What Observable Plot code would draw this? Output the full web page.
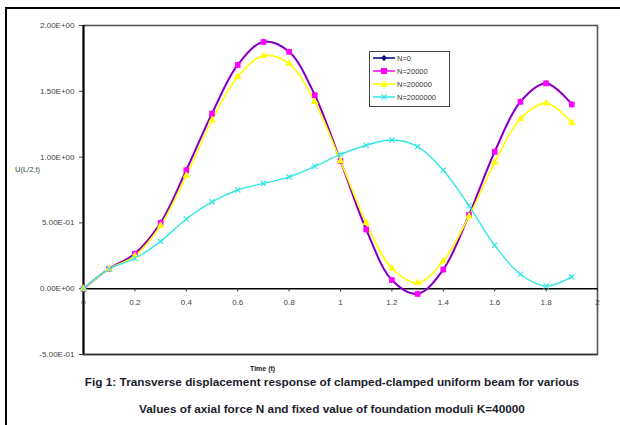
<!DOCTYPE html>
<html>
<head>
<meta charset="utf-8">
<script src="https://cdn.jsdelivr.net/npm/d3@7"></script>
<script src="https://cdn.jsdelivr.net/npm/@observablehq/plot@0.6"></script>
<style>
  html, body { margin: 0; padding: 0; background: #fff; }
  #wrap { position: relative; width: 620px; height: 425px; overflow: hidden; font-family: "Liberation Sans", Arial, sans-serif; }
  #frame { position: absolute; left: 5px; top: 7px; width: 640px; height: 440px; border-left: 2px solid #000; border-top: 2px solid #000; }
  #chart { position: absolute; left: 0; top: 0; }
  .cap { position: absolute; left: 0; width: 620px; text-align: center; font-weight: bold; font-size: 11.8px; color: #1c1c2c; white-space: nowrap; }
  #legend { position: absolute; left: 369px; top: 51px; width: 79px; height: 54px; border: 1px solid #444; background: #fff; font-size: 7.5px; color: #333; }
  .li { position: absolute; left: 3px; height: 10px; display: flex; align-items: center; }
  .li svg { margin-right: 2px; }
  #ylab { position: absolute; left: 15px; top: 165px; font-size: 7.5px; color: #2f4a2f; }
  #xlab { position: absolute; left: 250px; top: 365px; font-size: 7px; color: #222; font-weight: bold; }
</style>
</head>
<body>
<div id="wrap">
  <div id="frame"></div>
  <div id="chart"></div>
  <div id="ylab">U(L/2,t)</div>
  <div id="xlab">Time (t)</div>
  <div id="legend"></div>
  <div class="cap" style="top:375px; left:22px;">Fig 1: Transverse displacement response of clamped-clamped uniform beam for various</div>
  <div class="cap" style="top:402px; left:22px;">Values of axial force N and fixed value of foundation moduli K=40000</div>
</div>
<script>
const times = [0, 0.1, 0.2, 0.3, 0.4, 0.5, 0.6, 0.7, 0.8, 0.9, 1.0, 1.1, 1.2, 1.3, 1.4, 1.5, 1.6, 1.7, 1.8, 1.9];
const seriesNames = ["N=0", "N=20000", "N=200000", "N=2000000"];
const n0       = [0, 0.152, 0.267, 0.502, 0.902, 1.332, 1.702, 1.877, 1.802, 1.472, 0.972, 0.452, 0.067, -0.038, 0.147, 0.562, 1.042, 1.422, 1.562, 1.402];
const n20000   = [0, 0.152, 0.266, 0.50, 0.90, 1.33, 1.70, 1.875, 1.80, 1.47, 0.97, 0.45, 0.065, -0.04, 0.145, 0.56, 1.04, 1.42, 1.56, 1.40];
const n200000  = [0, 0.150, 0.250, 0.48, 0.86, 1.28, 1.61, 1.77, 1.71, 1.42, 0.97, 0.50, 0.155, 0.045, 0.21, 0.55, 0.96, 1.29, 1.41, 1.26];
const n2000000 = [0, 0.150, 0.230, 0.36, 0.53, 0.66, 0.75, 0.80, 0.85, 0.93, 1.02, 1.09, 1.13, 1.08, 0.90, 0.63, 0.33, 0.11, 0.02, 0.09];
const xTicks = [0, 0.2, 0.4, 0.6, 0.8, 1, 1.2, 1.4, 1.6, 1.8, 2];
const xTickLabels = ["0", "0.2", "0.4", "0.6", "0.8", "1", "1.2", "1.4", "1.6", "1.8", "2"];
const yTicks = [-0.5, 0, 0.5, 1, 1.5, 2];
const yTickLabels = ["-5.00E-01", "0.00E+00", "5.00E-01", "1.00E+00", "1.50E+00", "2.00E+00"];

const colors = ["#000080", "#ff00ff", "#ffff00", "#33e6e6"];
const allValues = [n0, n20000, n200000, n2000000];
const rows = [];
allValues.forEach((vals, i) => vals.forEach((v, j) => rows.push({ t: times[j], u: v, s: seriesNames[i] })));
const sel = name => rows.filter(r => r.s === name);
const xt = xTicks.map((x, i) => ({ x, label: xTickLabels[i] }));

const chart = Plot.plot({
  width: 620,
  height: 425,
  marginLeft: 83,
  marginTop: 25,
  marginRight: 23,
  marginBottom: 71,
  x: { type: "linear", domain: [0, 2] },
  y: { type: "linear", domain: [-0.5, 2] },
  style: { fontFamily: "Liberation Sans, Arial, sans-serif", background: "transparent" },
  marks: [
    Plot.frame({ stroke: "#555", strokeWidth: 1.6 }),
    Plot.axisY({ ticks: yTicks, tickFormat: (d) => yTickLabels[yTicks.indexOf(d)], tickSize: 4, tickPadding: 5, fontSize: 8, color: "#444", label: null, style: { letterSpacing: "0.4px" } }),
    Plot.axisX({ ticks: [], label: null, tickSize: 0, tickFormat: () => "" }),
    Plot.ruleX([0], { stroke: "#000", strokeWidth: 2 }),
    Plot.ruleY([-0.5], { stroke: "#333", strokeWidth: 1.5 }),
    Plot.ruleY([0], { stroke: "#000", strokeWidth: 1.5 }),
    Plot.ruleX(xt, { x: "x", y1: 0, y2: -0.025, stroke: "#333", strokeWidth: 1 }),
    Plot.text(xt, { x: "x", y: 0, text: "label", dy: 14, fontSize: 8, fill: "#444" }),
    // lines
    Plot.line(sel("N=20000"), { x: "t", y: "u", stroke: colors[1], strokeWidth: 2, curve: "catmull-rom" }),
    Plot.line(sel("N=0"), { x: "t", y: "u", stroke: colors[0], strokeWidth: 1.6, strokeOpacity: 0.55, curve: "catmull-rom" }),
    Plot.line(sel("N=200000"), { x: "t", y: "u", stroke: colors[2], strokeWidth: 1.6, curve: "catmull-rom" }),
    Plot.line(sel("N=2000000"), { x: "t", y: "u", stroke: colors[3], strokeWidth: 1.4, curve: "catmull-rom" }),
    Plot.dot(sel("N=0"), { x: "t", y: "u", symbol: "diamond", fill: colors[0], r: 2 }),
    Plot.dot(sel("N=20000"), { x: "t", y: "u", symbol: "square", fill: colors[1], r: 3.2 }),
    Plot.dot(sel("N=200000"), { x: "t", y: "u", symbol: "triangle", fill: colors[2], r: 2.8 }),
    Plot.dot(sel("N=2000000"), { x: "t", y: "u", symbol: "times", stroke: colors[3], r: 2.5, strokeWidth: 1.2 })
  ]
});
document.getElementById("chart").appendChild(chart);

// legend
const legend = document.getElementById("legend");
const shapes = [
  '<path d="M11 2 L14 5 L11 8 L8 5 Z" fill="#000080"/>',
  '<rect x="8" y="2" width="6" height="6" fill="#ff00ff"/>',
  '<path d="M11 1.5 L14.5 8 L7.5 8 Z" fill="#ffff00"/>',
  '<path d="M8.5 2.5 L13.5 7.5 M13.5 2.5 L8.5 7.5" stroke="#33e6e6" stroke-width="1.2"/>'
];
seriesNames.forEach((name, i) => {
  const d = document.createElement("div");
  d.className = "li";
  d.style.top = (1 + i * 13) + "px";
  d.innerHTML = `<svg width="22" height="10"><line x1="0" y1="5" x2="22" y2="5" stroke="${colors[i]}" stroke-width="1.5"/>${shapes[i]}</svg><span>${name}</span>`;
  legend.appendChild(d);
});
</script>
</body>
</html>
